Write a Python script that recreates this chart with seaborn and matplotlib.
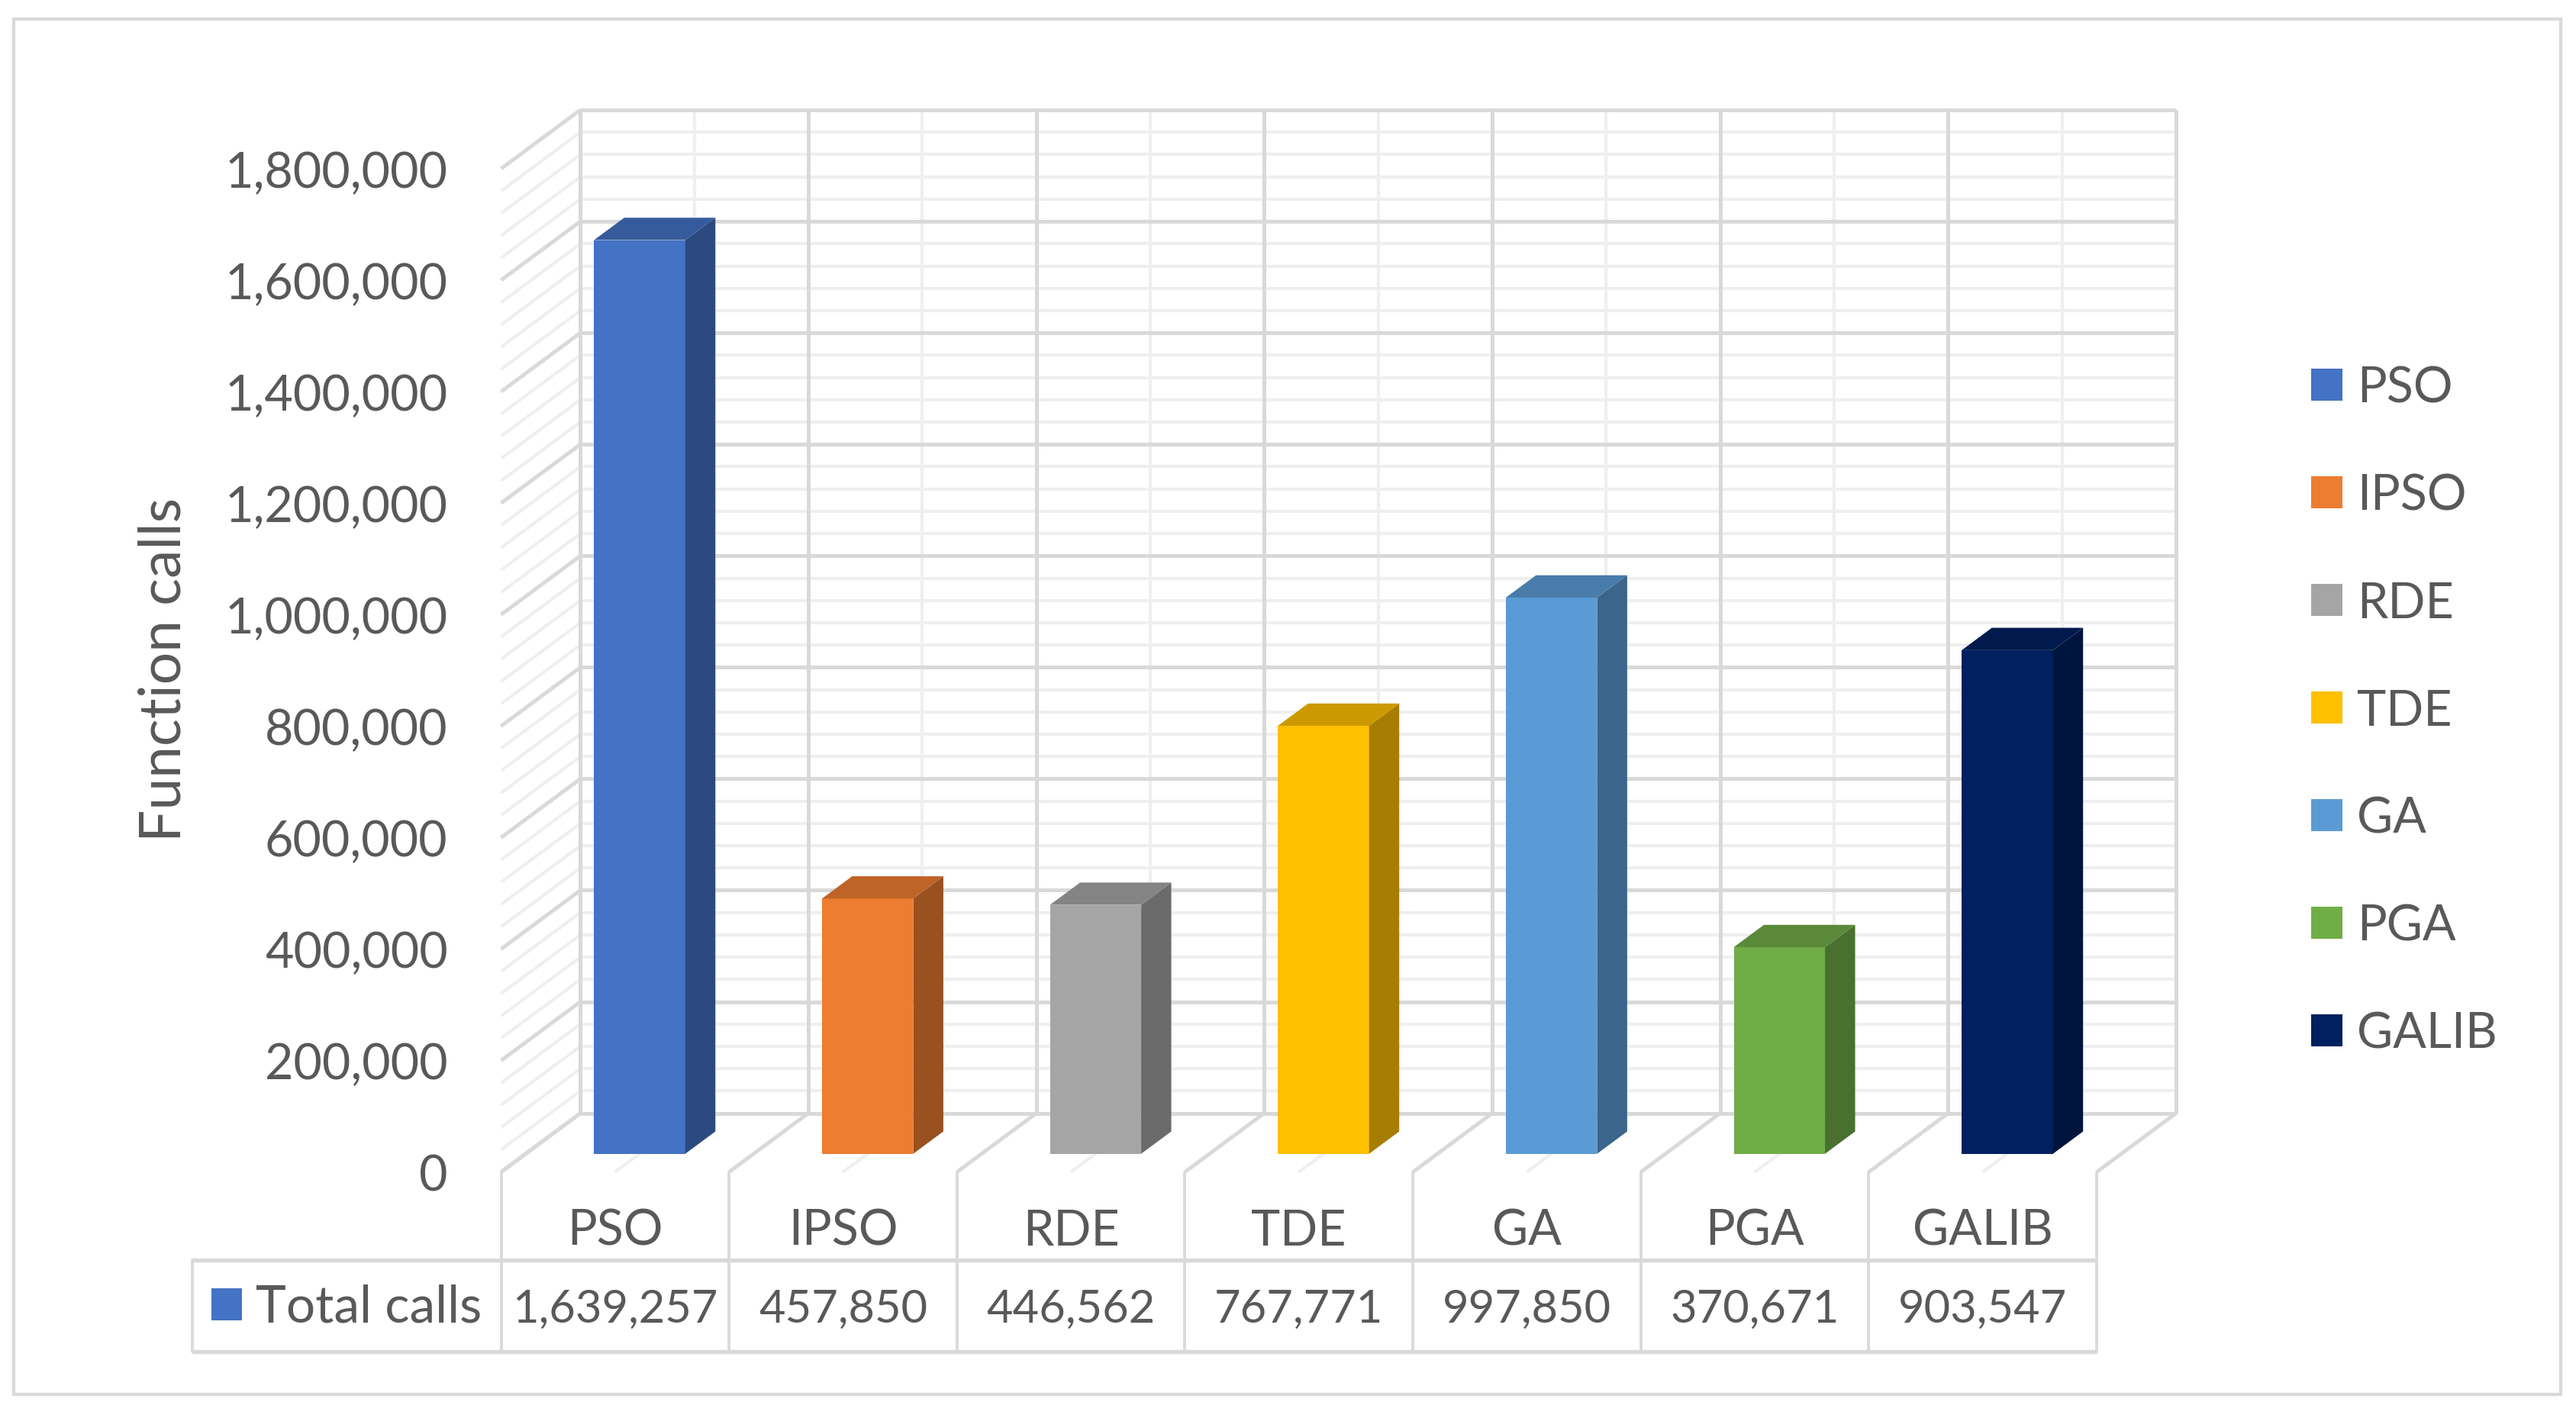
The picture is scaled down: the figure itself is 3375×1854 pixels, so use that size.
import numpy as np
import pandas as pd
import matplotlib.pyplot as plt
import matplotlib.transforms as mtransforms
from matplotlib.colors import to_rgb
from matplotlib.patches import Polygon, Rectangle
import seaborn as sns

methods = ['PSO', 'IPSO', 'RDE', 'TDE', 'GA', 'PGA', 'GALIB']
total_calls = [1639257, 457850, 446562, 767771, 997850, 370671, 903547]
bar_colors = ['#4472C4', '#ED7D31', '#A5A5A5', '#FFC000', '#5B9BD5', '#70AD47', '#002060']
y_ticks = list(range(0, 1800001, 200000))
minor_step = 40000
series_name = 'Total calls'
y_label = 'Function calls'

df = pd.DataFrame({'method': methods, 'calls': total_calls})

sns.set_theme(style='white')
plt.rcParams['font.family'] = ['Lato', 'DejaVu Sans']

text_col = '#595959'
major_col = '#D9D9D9'
minor_col = '#EFEFEF'

# fake excel 3d look: offset of the back wall in data units
DX = 0.348
DY = 105400
YMAX = y_ticks[-1]
F0, F1 = 0.31, 0.69  # bar front/back as fraction of the depth
n = len(methods)
left, right = -0.5, n - 0.5

fig = plt.figure(figsize=(11.25, 6.1833), dpi=300)
fig.patch.set_facecolor('white')
ax = fig.add_axes([0.19452, 0.17164, 0.65022, 0.75019])
ax.set_facecolor('none')

sns.barplot(data=df, x='method', y='calls', hue='method', palette=bar_colors,
            width=0.4, saturation=1, legend=True, linewidth=0, ax=ax)

ax.set_xlim(left, right + DX)
ax.set_ylim(0, YMAX + DY)
ax.set_xlabel('')
ax.set_ylabel('')
ax.set_xticks([])
ax.set_yticks(y_ticks)
ax.set_yticklabels([f'{v:,}' for v in y_ticks])
ax.tick_params(axis='y', length=0, pad=16.8, labelsize=15.5, labelcolor=text_col)
ax.grid(False)
sns.despine(ax=ax, left=True, bottom=True)


def seg(x0, y0, x1, y1, col, lw, **kw):
    ax.plot([x0, x1], [y0, y1], color=col, lw=lw, solid_capstyle='butt',
            clip_on=False, zorder=1, **kw)


# walls and floor, minor first so majors sit on top
levels = list(range(0, YMAX + 1, minor_step))
for major in (False, True):
    col = major_col if major else minor_col
    lw = 1.2 if major else 1.0
    for v in levels:
        if (v % y_ticks[1] == 0) != major:
            continue
        seg(left + DX, v + DY, right + DX, v + DY, col, lw)   # back wall
        seg(left, v, left + DX, v + DY, col, lw)             # side wall
    if major:
        xs = np.arange(n + 1) - 0.5
    else:
        xs = np.arange(n)
    for b in xs:
        seg(b + DX, DY, b + DX, YMAX + DY, col, lw)          # back wall
        seg(b, 0, b + DX, DY, col, lw)                       # floor

# bars: shift the seaborn rectangles into depth and add side/top faces
ddx, ddy = (F1 - F0) * DX, (F1 - F0) * DY
for bar in list(ax.patches):
    x0 = bar.get_x() + F0 * DX
    y0 = F0 * DY
    w = bar.get_width()
    h = bar.get_height()
    bar.set_x(x0)
    bar.set_y(y0)
    bar.set_zorder(3)
    c = np.array(to_rgb(bar.get_facecolor()))
    side = Polygon([(x0 + w, y0), (x0 + w + ddx, y0 + ddy),
                    (x0 + w + ddx, y0 + h + ddy), (x0 + w, y0 + h)],
                   closed=True, fc=c * 0.65, ec='none', zorder=3)
    top = Polygon([(x0, y0 + h), (x0 + w, y0 + h),
                   (x0 + w + ddx, y0 + h + ddy), (x0 + ddx, y0 + h + ddy)],
                  closed=True, fc=c * 0.8, ec='none', zorder=3)
    ax.add_patch(side)
    ax.add_patch(top)

# data table under the plot
blend = mtransforms.blended_transform_factory(ax.transData, fig.transFigure)
tab_left = -1.854
tab_top, tab_bot, floor_y = 0.10943, 0.04474, 0.17164
for y in (tab_top, tab_bot):
    ax.plot([tab_left, right], [y, y], color=major_col, lw=1.3, transform=blend,
            clip_on=False, zorder=1, solid_capstyle='butt')
ax.plot([tab_left, tab_left], [tab_bot, tab_top], color=major_col, lw=0.9,
        transform=blend, clip_on=False, zorder=1)
for b in np.arange(n + 1) - 0.5:
    ax.plot([b, b], [tab_bot, floor_y], color=major_col, lw=0.9,
            transform=blend, clip_on=False, zorder=1)

for i, (m, v) in enumerate(zip(methods, total_calls)):
    ax.text(i, 0.12038, m, transform=blend, ha='center', va='baseline',
            fontsize=15.5, color=text_col)
    ax.text(i, 0.0661, f'{v:,}', transform=blend, ha='center', va='baseline',
            fontsize=14.3, color=text_col)

ax.add_patch(Rectangle((-1.771, 0.07817 - 0.0113), 0.134, 0.0226, transform=blend,
                       fc=bar_colors[0], ec='none', clip_on=False))
ax.text(-1.5765, 0.0661, series_name, transform=blend, ha='left', va='baseline',
        fontsize=16.2, color=text_col)

fig.text(0.07022, 0.5272, y_label, rotation=90, rotation_mode='anchor',
         ha='center', va='baseline', fontsize=18, color=text_col)

sns.move_legend(ax, 'center left', bbox_to_anchor=(1407 / 1568, 0.4975),
                bbox_transform=fig.transFigure, frameon=False, title=None,
                fontsize=15.5, labelcolor=text_col, handlelength=0.62,
                handleheight=0.62, handletextpad=0.3, labelspacing=1.27,
                borderpad=0, borderaxespad=0)

# chart area border
fig.patches.append(Rectangle((0.00533, 0.01456), 0.98874, 0.97143,
                             transform=fig.transFigure, fill=False,
                             ec=major_col, lw=1.0))

fig.savefig('out.png', dpi=300)
